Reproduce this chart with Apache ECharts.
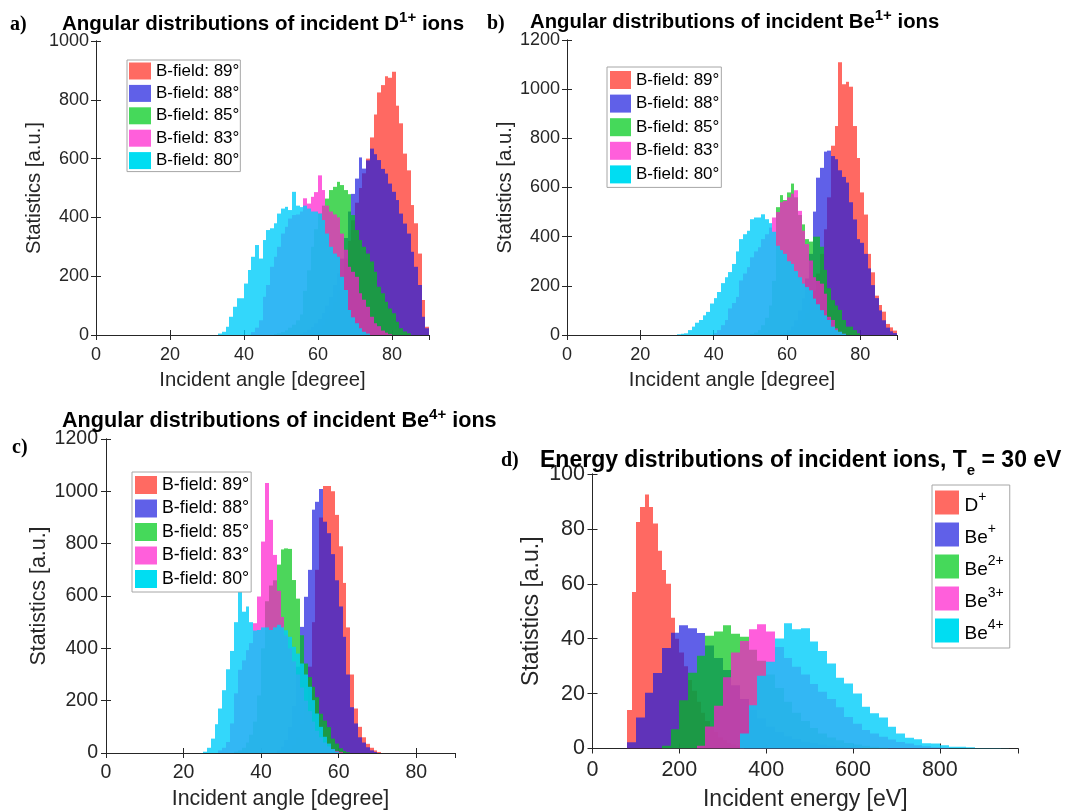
<!DOCTYPE html>
<html><head><meta charset="utf-8">
<script src="https://cdn.jsdelivr.net/npm/echarts/dist/echarts.min.js"></script>
<style>html,body{margin:0;padding:0;background:#fff;}#c{width:1074px;height:812px;}</style>
</head><body><div id="c"></div>
<script>
// ---------- data ----------
const fieldNames = ['B-field: 89°', 'B-field: 88°', 'B-field: 85°', 'B-field: 83°', 'B-field: 80°'];
const angleBin = 1;            // degree
// panel a : D1+
const aStarts = [60, 55, 48, 42, 33];
const a89 = [20,35,55,80,110,150,200,260,320,390,450,500,550,600,672,750,825,850,880,875,895,780,720,617,560,442,380,277,119,28];
const a88 = [5,10,18,28,40,55,75,100,130,170,210,260,330,420,480,532,604,566,594,634,615,595,565,549,515,487,459,413,379,345,283,232,170,62,23];
const a85 = [3,6,10,16,25,35,50,70,150,220,300,360,413,440,464,493,504,521,510,493,479,408,357,323,300,277,250,215,164,142,113,90,74,45,23,12,6];
const a83 = [10,25,50,130,170,232,266,300,345,368,396,408,410,420,465,447,470,486,543,493,440,420,410,400,345,290,232,215,198,142,120,96,62,40,30,15,8,3];
const a80 = [5,11,28,62,96,125,125,175,221,266,306,260,323,357,363,380,413,430,436,425,487,440,435,440,430,420,420,413,391,345,300,277,266,198,153,85,60,40,23,11,5];
// panel b : Be1+
const bStarts = [58, 58, 50, 40, 30];
const b89 = [5,8,12,20,30,45,65,90,130,180,250,330,430,560,770,850,1110,1020,1030,1010,850,720,580,490,330,255,160,122,95,45,31,18];
const b88 = [5,10,20,35,60,100,150,230,330,502,640,680,746,750,728,715,670,643,620,540,470,390,375,330,271,203,150,100,60,30,15,8];
const b85 = [5,10,20,40,70,120,220,520,569,549,580,616,560,488,450,390,380,400,400,359,265,190,142,120,102,61,34,34,20,7];
const b83 = [8,20,40,61,108,130,155,222,250,276,316,340,357,390,410,437,478,500,540,545,560,575,589,505,424,370,303,235,220,209,168,74,61,27,13,5];
const b80 = [3,5,7,20,34,50,61,80,94,128,150,175,211,235,256,289,340,390,410,424,471,478,478,491,471,455,420,363,345,330,300,289,260,235,209,195,182,148,125,101,80,61,34,20,13,5];
// panel c : Be4+
const cStarts = [46, 44, 33, 29, 25];
const c89 = [5,15,30,60,110,200,330,500,700,900,1020,1020,1000,910,790,650,480,300,170,100,60,35,20,10,4];
const c88 = [10,25,50,100,180,330,482,597,700,930,960,1009,884,840,760,660,560,444,300,175,113,60,40,22,10,4];
const c85 = [5,10,20,40,70,120,220,400,580,640,660,720,778,782,780,661,590,450,342,290,253,213,150,124,99,55,36,18,8,3];
const c83 = [10,20,42,113,228,318,354,393,420,496,598,808,1032,891,757,620,520,450,400,350,300,250,200,160,120,85,60,40,25,15,8,4];
const c80 = [5,20,55,110,170,240,320,390,500,620,540,560,500,468,470,480,480,470,480,490,480,469,444,406,380,342,300,253,202,151,100,62,36,15,5];
// panel d : energy distributions (eV)
const ionNames = ['D+', 'Be+', 'Be2+', 'Be3+', 'Be4+'];
const ionBase = ['D', 'Be', 'Be', 'Be', 'Be'];
const ionSup = ['+', '+', '2+', '3+', '4+'];
const dStarts = [80, 80, 160, 240, 340];
const dBins = [10, 20, 20, 20, 20];
const dD   = [14,57,82.5,88,92.5,88,82,72,65,60,47.6,40,35,30,25,21,17,13,10,8,6,4,3,2,1.5,1,0.5];
const dBe1 = [2.3,11.3,20.3,27.5,36.6,42.2,44.9,43.8,42.1,37.5,33,28.6,23,18,14,11,8,6,4.5,3.5,2.5,2,1.5,1,0.7,0.5,0.3];
const dBe2 = [1,7,17.6,27.6,33.8,41.1,42.6,44.9,41.8,40.7,36,32,27,22,17,13,10,7.5,5.5,4,3,2,1.5,1,0.6,0.4];
const dBe3 = [1,8,15.6,26,35,39.2,43.4,45.3,42.6,37,33,29.8,27,23.5,20.7,18,15,11.5,9,6.7,5.5,4.3,3.3,2.4,1.8,1.2,0.8,0.5,0.3];
const dBe4 = [5.5,15.8,26.5,31.6,40.1,45.6,43.4,43.8,39,35.5,31,25.8,23.7,20,15.2,12.8,11.3,7.9,5.5,3.9,3.4,1.9,1.8,1.2,0.6,0.6,0.5,0.2,0.2,0.2,0.1];
// axis ticks
const angleTicks = [0, 20, 40, 60, 80];
const energyTicks = [0, 200, 400, 600, 800];

// ---------- styles ----------
const FONT = '"Liberation Sans", Arial, Helvetica, sans-serif';
const SERIF = '"Liberation Serif", "Times New Roman", serif';
const fills = ['#FF2A1F', '#1C1CDE', '#00C416', '#FF1ACD', '#00CDFA'];
const opac = [0.7, 0.7, 0.7, 0.7, 0.8];
const swatch = ['#FF6A62', '#6060E8', '#45D95A', '#FF5FDB', '#00DDF2'];
const AX = '#262626';

const panels = [
  {grid:{left:96, top:41, width:333, height:294}, xMax:90, yMax:1000, xInt:20, yInt:200, xTicks:angleTicks,
   xName:'Incident angle [degree]', yName:'Statistics [a.u.]', fsTick:18, fsName:20.3, gapX:35, gapY:52, mX:11, mY:7},
  {grid:{left:567, top:40, width:330, height:295}, xMax:90, yMax:1200, xInt:20, yInt:200, xTicks:angleTicks,
   xName:'Incident angle [degree]', yName:'Statistics [a.u.]', fsTick:18, fsName:20.3, gapX:35, gapY:51.5, mX:11, mY:7},
  {grid:{left:106, top:439, width:349, height:314}, xMax:90, yMax:1200, xInt:20, yInt:200, xTicks:angleTicks,
   xName:'Incident angle [degree]', yName:'Statistics [a.u.]', fsTick:19.5, fsName:21.4, gapX:35.5, gapY:56, mX:10, mY:8},
  {grid:{left:592.5, top:474, width:425.5, height:274.5}, xMax:980, yMax:100, xInt:200, yInt:20, xTicks:energyTicks,
   xName:'Incident energy [eV]', yName:'Statistics [a.u.]', fsTick:21.5, fsName:23, gapX:39.5, gapY:49, mX:11, mY:7.5}
];

const xAxes = [], yAxes = [];
panels.forEach((p, g) => {
  const tick = {show:true, inside:true, length:5, lineStyle:{color:AX, width:1}};
  const line = {show:true, lineStyle:{color:AX, width:1}};
  const lab = {fontSize:p.fsTick, color:AX, fontFamily:FONT};
  xAxes.push({type:'value', gridIndex:g, position:'bottom', min:0, max:p.xMax, interval:p.xInt,
    name:p.xName, nameLocation:'middle', nameGap:p.gapX,
    nameTextStyle:{fontSize:p.fsName, color:AX, fontFamily:FONT},
    axisLine:line, axisTick:tick, splitLine:{show:false},
    axisLabel:Object.assign({margin:p.mX, showMaxLabel:false,
      formatter:(v)=> p.xTicks.indexOf(v) >= 0 ? String(v) : ''}, lab)});
  xAxes.push({type:'value', gridIndex:g, position:'top', min:0, max:p.xMax, interval:p.xInt,
    axisLine:line, axisTick:tick, splitLine:{show:false}, axisLabel:{show:false}});
  yAxes.push({type:'value', gridIndex:g, position:'left', min:0, max:p.yMax, interval:p.yInt,
    name:p.yName, nameLocation:'middle', nameGap:p.gapY,
    nameTextStyle:{fontSize:p.fsName, color:AX, fontFamily:FONT},
    axisLine:line, axisTick:tick, splitLine:{show:false},
    axisLabel:Object.assign({margin:p.mY, formatter:(v)=> String(v)}, lab)});
  yAxes.push({type:'value', gridIndex:g, position:'right', min:0, max:p.yMax, interval:p.yInt,
    axisLine:line, axisTick:tick, splitLine:{show:false}, axisLabel:{show:false}});
});

function hist(name, g, start, width, values, k) {
  const data = values.map((v, i) => [start + i * width, start + (i + 1) * width, v]);
  return {
    type:'custom', name:name, xAxisIndex:g * 2, yAxisIndex:g * 2, data:data, clip:true, silent:true,
    encode:{x:[0, 1], y:2}, itemStyle:{color:swatch[k]},
    renderItem:(params, api) => {
      const p0 = api.coord([api.value(0), api.value(2)]);
      const p1 = api.coord([api.value(1), 0]);
      const x0 = Math.round(p0[0]), x1 = Math.round(p1[0]);
      return {type:'rect', shape:{x:x0, y:p0[1], width:x1 - x0, height:p1[1] - p0[1]},
              style:{fill:fills[k], opacity:opac[k]}};
    }
  };
}

const series = [];
[[a89,a88,a85,a83,a80,aStarts],[b89,b88,b85,b83,b80,bStarts],[c89,c88,c85,c83,c80,cStarts]].forEach((set, g) => {
  for (let k = 0; k < 5; k++) series.push(hist(fieldNames[k], g, set[5][k], angleBin, set[k], k));
});
[dD, dBe1, dBe2, dBe3, dBe4].forEach((vals, k) => series.push(hist(ionNames[k], 3, dStarts[k], dBins[k], vals, k)));

function fieldLegend(left, top, iw, ih, gap, pad, fs) {
  return {left:left, top:top, orient:'vertical', icon:'rect', itemWidth:iw, itemHeight:ih, itemGap:gap,
    padding:pad, borderColor:'#a6a6a6', borderWidth:1, backgroundColor:'#fff', selectedMode:false,
    textStyle:{fontSize:fs, color:'#000', fontFamily:FONT, lineHeight:ih},
    data:fieldNames.map((n, i) => ({name:n, itemStyle:{color:swatch[i], opacity:1}}))};
}
const legends = [
  fieldLegend(127, 60, 22, 17, 5.4, [2.5, 1, 2.5, 2], 17),
  fieldLegend(607, 67, 21, 18, 5.6, [4, 2, 4, 3], 17),
  fieldLegend(132, 472, 22, 18, 5.5, [4, 2, 4, 3], 17.8),
  {left:932, top:485, orient:'vertical', icon:'rect', itemWidth:24, itemHeight:24, itemGap:7,
   padding:[5, 6, 5, 3], borderColor:'#a6a6a6', borderWidth:1, backgroundColor:'#fff', selectedMode:false,
   formatter:(n) => { const i = ionNames.indexOf(n); return '{h| }{b|' + ionBase[i] + '}{s|' + ionSup[i] + '}'; },
   textStyle:{fontFamily:FONT, color:'#000', rich:{
     h:{fontSize:2, lineHeight:25},
     b:{fontSize:19, fontFamily:FONT, color:'#000', lineHeight:19, verticalAlign:'bottom'},
     s:{fontSize:14, fontFamily:FONT, color:'#000', lineHeight:15, verticalAlign:'top'}}},
   data:ionNames.map((n, i) => ({name:n, itemStyle:{color:swatch[i], opacity:1}}))}
];

function supTitle(left, top, main, sup, tail, fs) {
  return {left:left, top:top, padding:0, text:'{n|' + main + '}{s|' + sup + '}{n|' + tail + '}',
    textStyle:{rich:{
      n:{fontSize:fs, fontWeight:'bold', fontFamily:FONT, color:'#000', lineHeight:28},
      s:{fontSize:15, fontWeight:'bold', fontFamily:FONT, color:'#000', lineHeight:15, verticalAlign:'top'}}}};
}
function letter(left, top, t) {
  return {left:left, top:top, padding:0, text:t, textStyle:{fontSize:20, fontWeight:'bold', fontFamily:SERIF, color:'#000', lineHeight:24}};
}
const titles = [
  letter(10, 13, 'a)'), letter(487, 12, 'b)'), letter(12, 436, 'c)'), letter(501, 449, 'd)'),
  supTitle(62, 10, 'Angular distributions of incident D', '1+', ' ions', 20.5),
  supTitle(530, 8, 'Angular distributions of incident Be', '1+', ' ions', 20.3),
  supTitle(62, 407, 'Angular distributions of incident Be', '4+', ' ions', 21.6),
  {left:540, top:444, padding:0, text:'{n|Energy distributions of incident ions, T}{e|e}{n| = 30 eV}',
   textStyle:{rich:{
     n:{fontSize:23, fontWeight:'bold', fontFamily:FONT, color:'#000', lineHeight:34},
     e:{fontSize:15, fontWeight:'bold', fontFamily:FONT, color:'#000', lineHeight:15, verticalAlign:'bottom'}}}}
];

const chart = echarts.init(document.getElementById('c'), null, {renderer:'canvas'});
chart.setOption({
  animation:false, backgroundColor:'#fff',
  title:titles, legend:legends,
  grid:panels.map(p => Object.assign({containLabel:false}, p.grid)),
  xAxis:xAxes, yAxis:yAxes, series:series
});
</script></body></html>
